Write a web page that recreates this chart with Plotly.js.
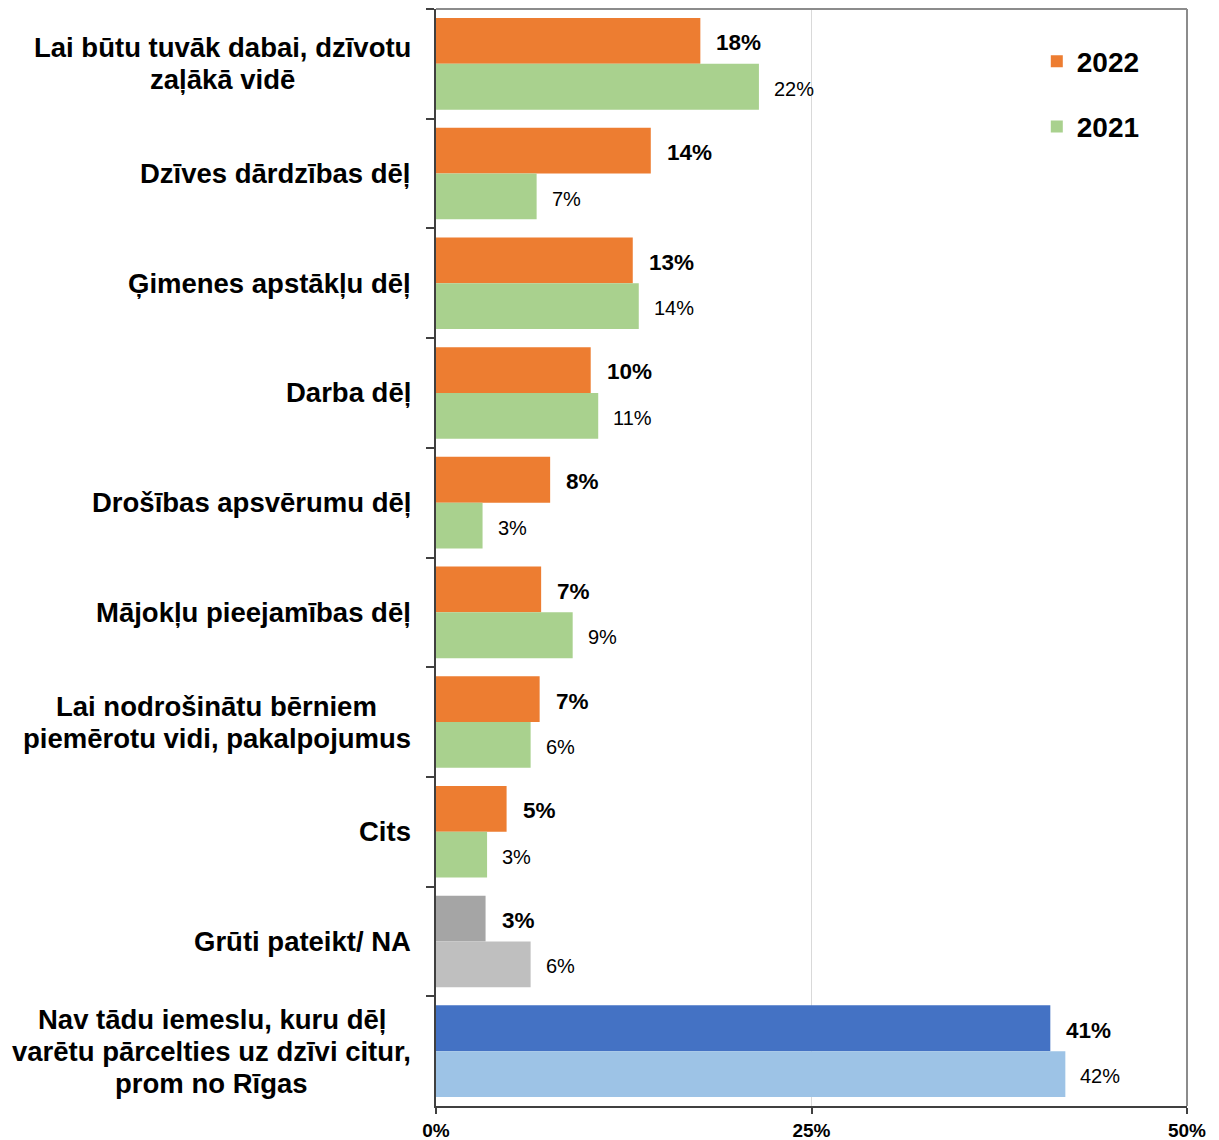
<!DOCTYPE html>
<html>
<head>
<meta charset="utf-8">
<script src="https://cdn.plot.ly/plotly-3.0.1.min.js"></script>
<style>html,body{margin:0;padding:0;background:#fff;}#chart{width:1219px;height:1140px;}</style>
</head>
<body>
<div id="chart"></div>
<script>
// Categories (top to bottom); "<br>" marks line breaks
const categories = [
  "Lai būtu tuvāk dabai, dzīvotu<br>zaļākā vidē",
  "Dzīves dārdzības dēļ",
  "Ģimenes apstākļu dēļ",
  "Darba dēļ",
  "Drošības apsvērumu dēļ",
  "Mājokļu pieejamības dēļ",
  "Lai nodrošinātu bērniem<br>piemērotu vidi, pakalpojumus",
  "Cits",
  "Grūti pateikt/ NA",
  "Nav tādu iemeslu, kuru dēļ<br>varētu pārcelties uz dzīvi citur,<br>prom no Rīgas"
];
const catKeys = ["c1","c2","c3","c4","c5","c6","c7","c8","c9","c10"];
// Values in percent
const values2022 = [17.6, 14.3, 13.1, 10.3, 7.6, 7.0, 6.9, 4.7, 3.3, 40.9];
const values2021 = [21.5, 6.7, 13.5, 10.8, 3.1, 9.1, 6.3, 3.4, 6.3, 41.9];
const seriesNames = ["2022", "2021"];
const colors2022 = ["#ED7D31","#ED7D31","#ED7D31","#ED7D31","#ED7D31","#ED7D31","#ED7D31","#ED7D31","#A5A5A5","#4472C4"];
const colors2021 = ["#A9D18E","#A9D18E","#A9D18E","#A9D18E","#A9D18E","#A9D18E","#A9D18E","#A9D18E","#BFBFBF","#9DC3E6"];
const xTicks = [0, 25, 50];

const FONT = "Liberation Sans, Arial, sans-serif";
const CAT_SIZE = 27.5;
const LINE_H = 32;

const traces = [
  {type:"bar", orientation:"h", name:seriesNames[0], y:catKeys, x:values2022,
   marker:{color:colors2022}, legendgroup:"a", hoverinfo:"x"},
  {type:"bar", orientation:"h", name:seriesNames[1], y:catKeys, x:values2021,
   marker:{color:colors2021}, legendgroup:"b", hoverinfo:"x"}
];

const cv = document.createElement("canvas");
const ctx = cv.getContext("2d");
ctx.font = "bold " + CAT_SIZE + "px 'Liberation Sans', Arial, sans-serif";

const annotations = [];
categories.forEach((c, i) => {
  const lines = c.split("<br>");
  const maxW = Math.max(...lines.map(l => ctx.measureText(l).width));
  const n = lines.length;
  lines.forEach((l, j) => {
    annotations.push({xref:"paper", yref:"y", x:0, y:catKeys[i], xanchor:"center", yanchor:"middle",
      xshift:-(25 + maxW/2), yshift:((n-1)/2 - j)*LINE_H, showarrow:false, text:"<b>"+l+"</b>",
      font:{family:FONT, size:CAT_SIZE, color:"#000"}});
  });
  annotations.push({xref:"x", yref:"y", x:values2022[i], y:catKeys[i], xanchor:"left", yanchor:"middle",
    xshift:14, yshift:21, showarrow:false, text:"<b>"+Math.round(values2022[i])+"%</b>",
    font:{family:FONT, size:22.5, color:"#000"}});
  annotations.push({xref:"x", yref:"y", x:values2021[i], y:catKeys[i], xanchor:"left", yanchor:"middle",
    xshift:13, yshift:-25, showarrow:false, text:Math.round(values2021[i])+"%",
    font:{family:FONT, size:20, color:"#000"}});
});

const layout = {
  width:1219, height:1140,
  margin:{l:436, r:32, t:9, b:34, pad:0},
  paper_bgcolor:"#fff", plot_bgcolor:"#fff",
  barmode:"group", bargap:0.165, bargroupgap:0,
  font:{family:FONT, color:"#000"},
  showlegend:true,
  legend:{x:0.80, xanchor:"left", y:0.975, yanchor:"top", tracegroupgap:26,
    font:{family:FONT, size:28, color:"#000", weight:"bold"}, bgcolor:"rgba(0,0,0,0)"},
  xaxis:{range:[0,50], tickvals:xTicks, ticktext:xTicks.map(v=>"<b>"+v+"%</b>"),
    showgrid:true, gridcolor:"#D9D9D9", gridwidth:1, zeroline:false,
    showline:true, linecolor:"#404040", linewidth:2,
    ticks:"outside", ticklen:6, tickcolor:"#404040", tickwidth:2,
    tickfont:{family:FONT, size:19, color:"#000"}, fixedrange:true},
  yaxis:{type:"category", categoryorder:"array", categoryarray:catKeys,
    range:[9.5,-0.5], showticklabels:false, showgrid:false, zeroline:false,
    showline:true, linecolor:"#404040", linewidth:2,
    ticks:"outside", tickson:"boundaries", ticklen:8, tickcolor:"#404040", tickwidth:2, fixedrange:true},
  shapes:[
    {type:"line", xref:"paper", yref:"paper", x0:0, x1:1, y0:1, y1:1, line:{color:"#8C8C8C", width:2}},
    {type:"line", xref:"paper", yref:"paper", x0:1, x1:1, y0:0, y1:1, line:{color:"#8C8C8C", width:2}}
  ],
  annotations:annotations
};

Plotly.newPlot("chart", traces, layout, {displayModeBar:false, staticPlot:true});
</script>
</body>
</html>
